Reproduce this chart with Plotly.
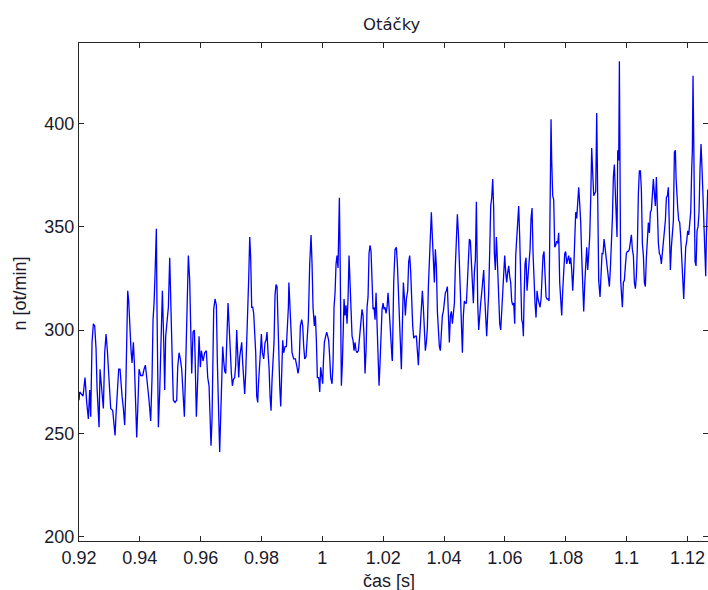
import plotly.graph_objects as go

# Speed signal: time [s] and speed [ot/min]
cas = [
    0.92000, 0.92023, 0.92133, 0.92198, 0.92253, 0.92308, 0.92352, 0.92385, 0.92428, 0.92472,
    0.92516, 0.92560, 0.92593, 0.92626, 0.92659, 0.92691, 0.92735, 0.92768, 0.92801, 0.92845,
    0.92889, 0.92933, 0.92965, 0.92998, 0.93042, 0.93108, 0.93152, 0.93185, 0.93217, 0.93261,
    0.93305, 0.93349, 0.93382, 0.93415, 0.93459, 0.93502, 0.93535, 0.93568, 0.93601, 0.93634,
    0.93667, 0.93711, 0.93743, 0.93787, 0.93820, 0.93853, 0.93897, 0.93941, 0.93974, 0.94028,
    0.94094, 0.94138, 0.94182, 0.94226, 0.94258, 0.94302, 0.94357, 0.94401, 0.94434, 0.94467,
    0.94500, 0.94543, 0.94565, 0.94587, 0.94609, 0.94653, 0.94697, 0.94741, 0.94784, 0.94817,
    0.94850, 0.94894, 0.94938, 0.94982, 0.95026, 0.95069, 0.95102, 0.95157, 0.95212, 0.95245,
    0.95289, 0.95332, 0.95376, 0.95420, 0.95464,
    0.95508, 0.95551, 0.95595, 0.95639, 0.95672, 0.95705, 0.95749, 0.95793, 0.95814, 0.95858,
    0.95902, 0.95946, 0.95990, 0.96023, 0.96077, 0.96132, 0.96187, 0.96231, 0.96275, 0.96308,
    0.96340, 0.96373, 0.96395, 0.96428, 0.96472, 0.96516, 0.96549, 0.96571, 0.96603, 0.96625,
    0.96658, 0.96691, 0.96724, 0.96757, 0.96790, 0.96823, 0.96866, 0.96899, 0.96932, 0.96965,
    0.97009, 0.97042, 0.97075, 0.97118, 0.97151, 0.97184, 0.97217, 0.97250, 0.97283, 0.97316,
    0.97349, 0.97381, 0.97414, 0.97447, 0.97480, 0.97524, 0.97557, 0.97579, 0.97612, 0.97644,
    0.97677, 0.97710, 0.97743, 0.97776, 0.97809, 0.97842, 0.97875, 0.97896, 0.97918, 0.97962,
    0.97995, 0.98028, 0.98072, 0.98116, 0.98148, 0.98181, 0.98214, 0.98247, 0.98280, 0.98313,
    0.98346, 0.98379, 0.98411, 0.98444, 0.98477, 0.98510, 0.98532, 0.98565, 0.98598, 0.98631,
    0.98663, 0.98696, 0.98729, 0.98773, 0.98817, 0.98850, 0.98883, 0.98900,
    0.98926, 0.98959, 0.99003, 0.99058, 0.99113, 0.99167, 0.99200, 0.99233, 0.99277, 0.99321,
    0.99354, 0.99387, 0.99420, 0.99463, 0.99496, 0.99540, 0.99584, 0.99628, 0.99661, 0.99693,
    0.99737, 0.99770, 0.99803, 0.99836, 0.99880, 0.99913, 0.99945, 0.99978, 1.00011, 1.00033,
    1.00066, 1.00110, 1.00143, 1.00176, 1.00208, 1.00241, 1.00274, 1.00318, 1.00351, 1.00384,
    1.00417, 1.00450, 1.00482, 1.00515, 1.00537, 1.00559, 1.00581, 1.00603, 1.00625, 1.00658,
    1.00680, 1.00713, 1.00745, 1.00778, 1.00811, 1.00844, 1.00877, 1.00910, 1.00943, 1.00976,
    1.01008, 1.01041, 1.01074, 1.01107, 1.01140, 1.01184, 1.01228, 1.01271, 1.01304, 1.01337,
    1.01370, 1.01403, 1.01436, 1.01469, 1.01502, 1.01534, 1.01567, 1.01600, 1.01633, 1.01666,
    1.01699, 1.01732, 1.01765, 1.01797, 1.01830, 1.01863, 1.01896, 1.01929, 1.01962, 1.01995,
    1.02028, 1.02060, 1.02093, 1.02126, 1.02159, 1.02192, 1.02225, 1.02258, 1.02291,
    1.02301, 1.02345, 1.02389, 1.02433, 1.02466, 1.02499, 1.02531, 1.02564, 1.02597, 1.02630,
    1.02663, 1.02696, 1.02729, 1.02762, 1.02805, 1.02838, 1.02871, 1.02904, 1.02937, 1.02970,
    1.03003, 1.03047, 1.03090, 1.03123, 1.03156, 1.03189, 1.03222, 1.03255, 1.03288, 1.03320,
    1.03353, 1.03386, 1.03419, 1.03452, 1.03485, 1.03518, 1.03551, 1.03583, 1.03616, 1.03649,
    1.03682, 1.03715, 1.03748, 1.03781, 1.03814, 1.03846, 1.03879, 1.03912, 1.03945, 1.03978,
    1.04011, 1.04044, 1.04077, 1.04109, 1.04142, 1.04175, 1.04208, 1.04241, 1.04274, 1.04307,
    1.04340, 1.04372, 1.04405, 1.04438, 1.04471, 1.04504, 1.04537, 1.04570, 1.04603, 1.04635,
    1.04668, 1.04701, 1.04734, 1.04767, 1.04800, 1.04833, 1.04866, 1.04898, 1.04931, 1.04964,
    1.04997, 1.05030, 1.05063, 1.05085, 1.05107, 1.05139, 1.05172, 1.05205, 1.05238, 1.05271,
    1.05304, 1.05337, 1.05370, 1.05402, 1.05435, 1.05468, 1.05501, 1.05534, 1.05567, 1.05600,
    1.05633, 1.05654, 1.05687, 1.05720, 1.05742,
    1.05764, 1.05797, 1.05830, 1.05863, 1.05895, 1.05928, 1.05961, 1.05994, 1.06027, 1.06060,
    1.06093, 1.06126, 1.06158, 1.06191, 1.06224, 1.06257, 1.06290, 1.06323, 1.06356, 1.06389,
    1.06421, 1.06454, 1.06487, 1.06520, 1.06553, 1.06586, 1.06608, 1.06630, 1.06663, 1.06695,
    1.06728, 1.06761, 1.06794, 1.06827, 1.06860, 1.06893, 1.06926, 1.06958, 1.06991, 1.07024,
    1.07057, 1.07090, 1.07123, 1.07156, 1.07189, 1.07221, 1.07254, 1.07287, 1.07320, 1.07353,
    1.07386, 1.07419, 1.07452, 1.07484, 1.07517, 1.07539, 1.07572, 1.07605, 1.07638, 1.07671,
    1.07704, 1.07736, 1.07769, 1.07802, 1.07835, 1.07868, 1.07901, 1.07934, 1.07967, 1.07999,
    1.08032, 1.08065, 1.08098, 1.08131, 1.08164, 1.08197, 1.08230, 1.08262, 1.08295, 1.08328,
    1.08361, 1.08394, 1.08427, 1.08460, 1.08493, 1.08525, 1.08558, 1.08591, 1.08624, 1.08657,
    1.08690, 1.08723, 1.08756, 1.08788, 1.08821, 1.08854, 1.08887, 1.08920, 1.08953, 1.08986,
    1.09019,
    1.09084, 1.09128, 1.09161, 1.09194, 1.09227, 1.09260, 1.09292, 1.09325, 1.09358, 1.09402,
    1.09435, 1.09468, 1.09501, 1.09534, 1.09566, 1.09599, 1.09632, 1.09654, 1.09687, 1.09709,
    1.09742, 1.09764, 1.09786, 1.09807, 1.09840, 1.09862, 1.09895, 1.09928, 1.09961, 1.09994,
    1.10027, 1.10059, 1.10092, 1.10125, 1.10158, 1.10191, 1.10224, 1.10257, 1.10290, 1.10322,
    1.10355, 1.10388, 1.10421, 1.10454, 1.10487, 1.10520, 1.10553, 1.10585, 1.10618, 1.10651,
    1.10684, 1.10717, 1.10750, 1.10783, 1.10816, 1.10848, 1.10881, 1.10914, 1.10947, 1.10980,
    1.11013, 1.11046, 1.11079, 1.11111, 1.11144, 1.11177, 1.11210, 1.11243, 1.11276, 1.11309,
    1.11342, 1.11374, 1.11407, 1.11440, 1.11473, 1.11506, 1.11539, 1.11572, 1.11605, 1.11626,
    1.11648, 1.11681, 1.11714, 1.11747, 1.11780, 1.11813, 1.11846, 1.11879, 1.11911, 1.11944,
    1.11977, 1.12010, 1.12043, 1.12076, 1.12109, 1.12142, 1.12163, 1.12185, 1.12207, 1.12229,
    1.12251, 1.12284, 1.12317, 1.12350, 1.12382, 1.12415, 1.12448, 1.12481, 1.12514, 1.12547,
    1.12580, 1.12602, 1.12624, 1.12646, 1.12668,
]

otacky = [
    266, 270, 268, 277, 265, 257, 271, 258, 294, 303,
    302, 291, 272, 263, 253, 281, 273, 268, 262, 289,
    298, 290, 281, 272, 262, 261, 255, 249, 259, 272,
    281, 281, 273, 268, 262, 254, 269, 300, 319, 314,
    300, 290, 284, 294, 284, 262, 248, 266, 281, 278,
    278, 281, 283, 277, 273, 266, 256, 277, 305, 313,
    327, 349, 309, 270, 253, 270, 300, 319, 295, 271,
    297, 306, 311, 335, 302, 283, 266, 265, 266, 282,
    289, 286, 281, 266, 258,
    283, 314, 336, 324, 300, 279, 299, 300, 289, 258,
    276, 297, 282, 290, 285, 289, 290, 277, 273, 254,
    244, 257, 286, 310, 315, 312, 284, 261, 253, 241,
    257, 280, 292, 285, 280, 279, 298, 313, 303, 290,
    279, 273, 276, 277, 283, 300, 290, 277, 287, 292,
    294, 284, 276, 269, 279, 297, 308, 325, 345, 335,
    311, 311, 308, 300, 289, 268, 265, 273, 281, 289,
    298, 289, 286, 294, 295, 299, 289, 282, 268, 261,
    276, 287, 294, 317, 322, 321, 307, 287, 273, 263,
    282, 295, 289, 292, 292, 300, 311, 323,
    313, 297, 289, 286, 286, 282, 279, 282, 302, 305,
    302, 292, 286, 287, 295, 305, 332, 346, 332, 311,
    302, 307, 295, 277, 277, 270, 282, 277, 274, 284,
    294, 297, 299, 297, 295, 287, 277, 274, 284, 311,
    318, 332, 336, 330, 347, 364, 339, 302, 273, 284,
    303, 315, 307, 312, 303, 315, 336, 326, 310, 297,
    295, 290, 294, 290, 289, 290, 298, 307, 310, 307,
    297, 279, 290, 311, 316, 337, 341, 338, 321, 310,
    311, 305, 318, 303, 282, 273, 284, 299, 310, 313,
    310, 311, 308, 311, 318, 311, 300, 290, 286,
    285, 323, 339, 340, 332, 315, 300, 294, 281, 297,
    323, 316, 307, 315, 319, 333, 336, 328, 313, 302,
    296, 297, 297, 290, 283, 294, 305, 315, 319, 311,
    300, 290, 294, 301, 321, 336, 345, 357, 345, 329,
    323, 339, 331, 309, 300, 292, 290, 300, 307, 309,
    313, 318, 319, 321, 308, 294, 307, 309, 303, 307,
    313, 331, 348, 356, 347, 332, 316, 300, 289, 307,
    314, 313, 313, 323, 332, 344, 343, 331, 318, 313,
    328, 334, 362, 332, 313, 300, 309, 313, 318, 324,
    329, 316, 308, 297, 308, 318, 338, 360, 364, 373,
    358, 337, 329, 345, 338,
    326, 317, 303, 300, 310, 322, 331, 336, 328, 323,
    328, 331, 326, 323, 314, 312, 313, 303, 336, 345,
    355, 360, 345, 321, 305, 303, 297, 315, 332, 335,
    319, 326, 331, 339, 354, 359, 337, 319, 313, 306,
    319, 315, 313, 311, 315, 326, 336, 338, 328, 316,
    315, 315, 314, 357, 402, 382, 365, 363, 340, 341,
    343, 342, 347, 323, 313, 307, 319, 328, 337, 338,
    332, 334, 336, 332, 335, 329, 319, 329, 347, 357,
    354, 366, 369, 361, 352, 336, 315, 309, 322, 334,
    340, 329, 335, 345, 363, 388, 376, 365, 366, 367,
    405,
    324, 316, 329, 337, 337, 344, 340, 336, 329, 324,
    321, 330, 340, 354, 374, 380, 366, 352, 345, 387,
    382, 430, 382, 324, 316, 311, 323, 324, 331, 337,
    338, 338, 339, 342, 346, 339, 336, 323, 320, 326,
    340, 366, 377, 377, 368, 342, 336, 323, 321, 335,
    347, 352, 347, 357, 358, 366, 373, 366, 360, 374,
    354, 342, 337, 336, 332, 337, 340, 345, 353, 364,
    365, 369, 345, 329, 340, 346, 353, 386, 387, 374,
    365, 359, 353, 352, 345, 332, 326, 315, 328, 340,
    343, 348, 346, 351, 357, 378, 387, 423, 378, 340,
    333, 331, 348, 350, 357, 378, 390, 378, 363, 352,
    336, 326, 345, 361, 368,
]

x_ticks = [0.92, 0.94, 0.96, 0.98, 1.00, 1.02, 1.04, 1.06, 1.08, 1.10, 1.12]
x_labels = ["0.92", "0.94", "0.96", "0.98", "1", "1.02", "1.04", "1.06", "1.08", "1.1", "1.12"]
y_ticks = [200, 250, 300, 350, 400]
y_labels = ["200", "250", "300", "350", "400"]

AXIS_COLOR = "#262626"
TICK_FONT = dict(family="Liberation Sans, Arial, sans-serif", size=18, color="#1a1a2a")

fig = go.Figure()
fig.add_trace(go.Scatter(
    x=cas, y=otacky, mode="lines",
    line=dict(color="#0000ff", width=1.3),
    hoverinfo="skip", showlegend=False,
))

fig.update_layout(
    width=708, height=590,
    margin=dict(l=79, r=0, t=43, b=49),
    paper_bgcolor="white", plot_bgcolor="white",
    showlegend=False,
    xaxis=dict(
        range=[0.92, 1.12677],
        tickvals=x_ticks, ticktext=x_labels,
        ticks="inside", ticklen=5, tickwidth=1, tickcolor=AXIS_COLOR,
        showline=True, linecolor=AXIS_COLOR, linewidth=1, mirror="ticks",
        showgrid=False, zeroline=False,
        tickfont=TICK_FONT,
    ),
    yaxis=dict(
        range=[197.92, 438.85],
        tickvals=y_ticks, ticktext=y_labels,
        ticks="inside", ticklen=5, tickwidth=1, tickcolor=AXIS_COLOR,
        showline=True, linecolor=AXIS_COLOR, linewidth=1, mirror="ticks",
        showgrid=False, zeroline=False,
        tickfont=TICK_FONT,
    ),
    annotations=[
        dict(text="Otáčky", xref="paper", yref="paper", x=0.497, y=1.037,
             xanchor="center", yanchor="middle", showarrow=False,
             font=dict(family="DejaVu Sans, sans-serif", size=16.5, color="#1a1a2a")),
        dict(text="čas [s]", xref="paper", yref="paper", x=0.4928, y=-0.080,
             xanchor="center", yanchor="middle", showarrow=False,
             font=dict(family="Liberation Sans, Arial, sans-serif", size=18, color="#1a1a2a")),
        dict(text="n [ot/min]", xref="paper", yref="paper", x=-0.0938, y=0.497,
             xanchor="center", yanchor="middle", showarrow=False, textangle=-90,
             font=dict(family="Liberation Sans, Arial, sans-serif", size=18, color="#1a1a2a")),
    ],
)

fig.write_html("out.html")
